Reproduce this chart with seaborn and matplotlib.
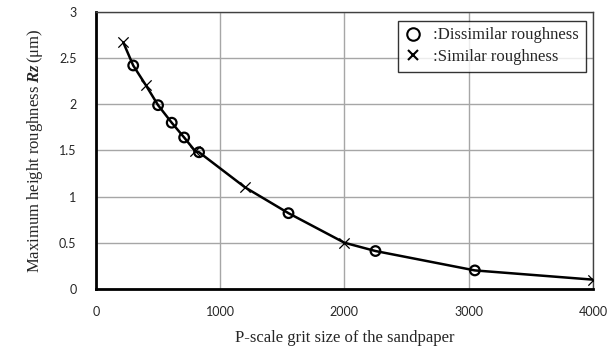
import matplotlib
matplotlib.use("Agg")
import matplotlib.pyplot as plt
import seaborn as sns
import pandas as pd
from matplotlib.lines import Line2D

# Data
dis_grit = [300, 500, 610, 710, 830, 1550, 2250, 3050]
dis_rz = [2.42, 1.99, 1.80, 1.64, 1.48, 0.82, 0.41, 0.20]
sim_grit = [220, 400, 800, 1200, 2000, 4000]
sim_rz = [2.67, 2.21, 1.49, 1.10, 0.50, 0.10]

x_ticks = [0, 1000, 2000, 3000, 4000]
y_ticks = [0, 0.5, 1, 1.5, 2, 2.5, 3]

dis = pd.DataFrame({"grit": dis_grit, "rz": dis_rz})
sim = pd.DataFrame({"grit": sim_grit, "rz": sim_rz})
allpts = pd.concat([dis, sim]).sort_values("grit").reset_index(drop=True)

sns.set_style("white")
plt.rcParams["font.family"] = ["Lato", "DejaVu Sans"]
plt.rcParams["mathtext.fontset"] = "custom"
plt.rcParams["mathtext.rm"] = "Liberation Serif"
plt.rcParams["mathtext.it"] = "Liberation Serif:italic"
plt.rcParams["mathtext.bf"] = "Liberation Serif:bold:italic"

fig = plt.figure(figsize=(6.15, 3.51), dpi=100)
ax = fig.add_axes([0.156, 0.177, 0.808, 0.789])

sns.lineplot(data=allpts, x="grit", y="rz", ax=ax, color="black", lw=1.8,
             sort=False, estimator=None, zorder=3)
sns.scatterplot(data=dis, x="grit", y="rz", ax=ax, marker="o", s=48,
                facecolor="none", edgecolor="black", linewidth=1.6, zorder=4)
sns.scatterplot(data=sim, x="grit", y="rz", ax=ax, marker="x", s=55,
                color="black", linewidth=0.9, zorder=4)

ax.set_xlim(0, 4000)
ax.set_ylim(0, 3)
ax.set_xticks(x_ticks)
ax.set_yticks(y_ticks)
ax.set_xticklabels([str(v) for v in x_ticks], fontsize=9)
ax.set_yticklabels([f"{v:g}" for v in y_ticks], fontsize=9)
ax.tick_params(axis="x", length=0, pad=12)
ax.tick_params(axis="y", length=0, pad=14)
ax.grid(True, color="#a6a6a6", lw=1.0)
ax.set_axisbelow(True)

for s in ["left", "bottom"]:
    ax.spines[s].set_color("black")
    ax.spines[s].set_linewidth(2.0)
for s in ["top", "right"]:
    ax.spines[s].set_color("#404040")
    ax.spines[s].set_linewidth(1.0)

ax.set_xlabel("P-scale grit size of the sandpaper", family="Liberation Serif",
              fontsize=12, labelpad=9)
ax.set_ylabel(r"Maximum height roughness $\mathbf{Rz}\,\mathrm{(\mu m)}$",
              family="Liberation Serif", fontsize=12, labelpad=10)

handles = [
    Line2D([], [], marker="o", ls="none", mfc="none", mec="black", mew=1.5, ms=9),
    Line2D([], [], marker="x", ls="none", color="black", mew=1.5, ms=7.5),
]
leg = ax.legend(handles, [":Dissimilar roughness", ":Similar roughness"],
                loc="upper right", bbox_to_anchor=(0.986, 0.968),
                prop={"family": "Liberation Serif", "size": 12},
                frameon=True, fancybox=False, edgecolor="black",
                handletextpad=0.7, handlelength=1.0, borderpad=0.4,
                labelspacing=0.35, borderaxespad=0)
leg.get_frame().set_linewidth(1.0)

fig.savefig("out.png", dpi=100)
